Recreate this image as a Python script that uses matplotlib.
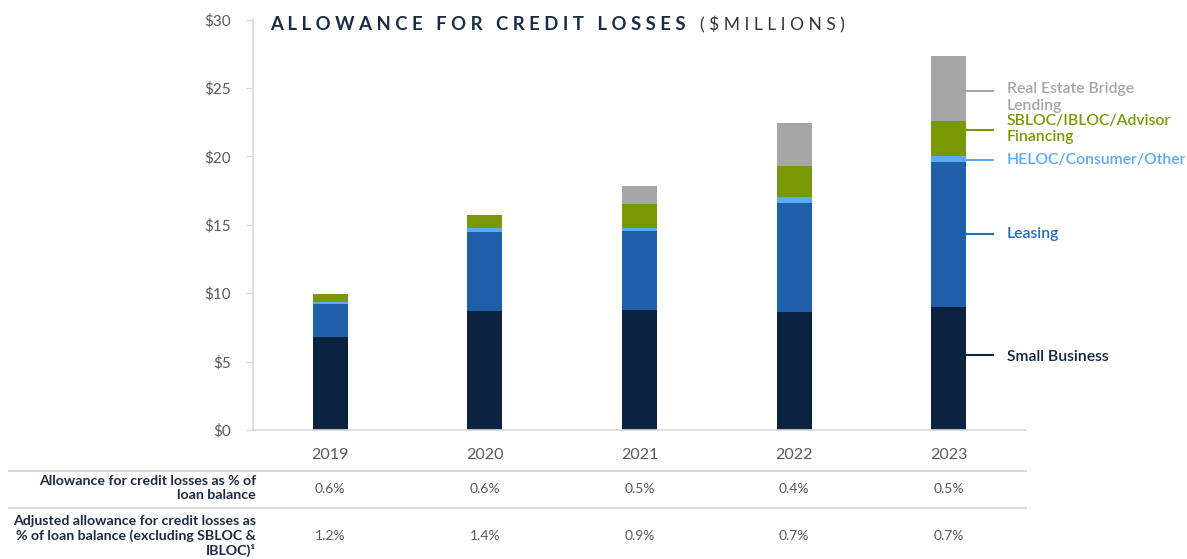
import matplotlib
matplotlib.use('Agg')
from matplotlib import pyplot as plt
import numpy as np

# data ($ millions)
years = ['2019', '2020', '2021', '2022', '2023']
small_business = [6.8, 8.7, 8.75, 8.6, 9.0]
leasing = [2.4, 5.8, 5.8, 8.0, 10.55]
heloc_consumer = [0.15, 0.25, 0.2, 0.45, 0.5]
sbloc_advisor = [0.6, 0.95, 1.75, 2.25, 2.5]
real_estate = [0.0, 0.0, 1.3, 3.1, 4.75]

pct_allowance = ['0.6%', '0.6%', '0.5%', '0.4%', '0.5%']
pct_adjusted = ['1.2%', '1.4%', '0.9%', '0.7%', '0.7%']

series_names = ['Small Business', 'Leasing', 'HELOC/Consumer/Other',
                'SBLOC/IBLOC/Advisor\nFinancing', 'Real Estate Bridge\nLending']
series_values = [small_business, leasing, heloc_consumer, sbloc_advisor, real_estate]
bar_colors = ['#0b2341', '#1f5fa8', '#5aaaf6', '#789904', '#a6a6a6']
label_colors = ['#0b2341', '#1f6fc0', '#5aaaf6', '#789904', '#a6a6a6']
# y (in $M) of each leader line, and of the label next to it
line_y = [5.5, 14.35, 19.75, 21.9, 24.75]
text_y = [5.3, 14.35, 19.7, 22.0, 25.4]
text_va = ['center', 'center', 'center', 'center', 'top']

navy = '#1a2b45'
grey_txt = '#595959'
rule = '#d9d9d9'

plt.rcParams['font.family'] = ['Lato', 'DejaVu Sans']

fig = plt.figure(figsize=(11.87, 5.59), dpi=100)
ax = fig.add_axes([253 / 1187, 1 - 430 / 559, 773 / 1187, 410.5 / 559])

x = np.arange(len(years))
bottom = np.zeros(len(years))
for vals, col in zip(series_values, bar_colors):
    ax.bar(x, vals, width=0.227, bottom=bottom, color=col, edgecolor='none')
    bottom += np.array(vals)

ax.set_xlim(-0.5, 4.5)
ax.set_ylim(0, 30)
ax.set_yticks(range(0, 31, 5))
ax.set_yticklabels([f'${v}' for v in range(0, 31, 5)], fontsize=11, color=grey_txt)
ax.tick_params(axis='y', length=5, color=rule, pad=11)
ax.set_xticks(x)
ax.set_xticklabels(years, fontsize=11.5, color=grey_txt)
ax.tick_params(axis='x', length=0, pad=13)

for s in ['top', 'right']:
    ax.spines[s].set_visible(False)
for s in ['left', 'bottom']:
    ax.spines[s].set_color(rule)
    ax.spines[s].set_linewidth(1.2)

# side labels next to the last bar
last = x[-1]
for name, col, ly, ty, va in zip(series_names, label_colors, line_y, text_y, text_va):
    ax.plot([last + 0.116, last + 0.285], [ly, ly], color=col, lw=1.5, clip_on=False)
    ax.text(last + 0.375, ty, name, color=col, fontsize=11.3, fontweight='semibold',
            va=va, ha='left', clip_on=False, linespacing=1.25)

# title (letter-spaced)
title_main = '   '.join(' '.join(w) for w in 'ALLOWANCE FOR CREDIT LOSSES'.split())
fig.text(270 / 1187, 1 - 25 / 559, title_main, fontsize=13.3, fontweight='bold',
         color=navy, va='center', ha='left')
fig.text(700 / 1187, 1 - 25 / 559, '( $ M I L L I O N S )', fontsize=12.5,
         color='#333333', va='center', ha='left')

# table under the chart
for yp in [471, 508]:
    fig.add_artist(plt.Line2D([9 / 1187, 1026 / 1187], [1 - yp / 559, 1 - yp / 559],
                              color=rule, lw=1.5))

fig.text(256 / 1187, 1 - 488 / 559, 'Allowance for credit losses as % of\nloan balance',
         ha='right', va='center', fontsize=10.2, fontweight='bold', color=navy,
         linespacing=1.2)
fig.text(256 / 1187, 1 - 536 / 559,
         'Adjusted allowance for credit losses as\n% of loan balance (excluding SBLOC &\nIBLOC)\u00b9',
         ha='right', va='center', fontsize=10.2, fontweight='bold', color=navy,
         linespacing=1.15)

for xi, a, b in zip(x, pct_allowance, pct_adjusted):
    xf = ax.transData.transform((xi, 0))[0] / fig.bbox.width
    fig.text(xf, 1 - 489 / 559, a, ha='center', va='center', fontsize=10, color=grey_txt)
    fig.text(xf, 1 - 536 / 559, b, ha='center', va='center', fontsize=10, color=grey_txt)

fig.savefig('out.png', dpi=100)
